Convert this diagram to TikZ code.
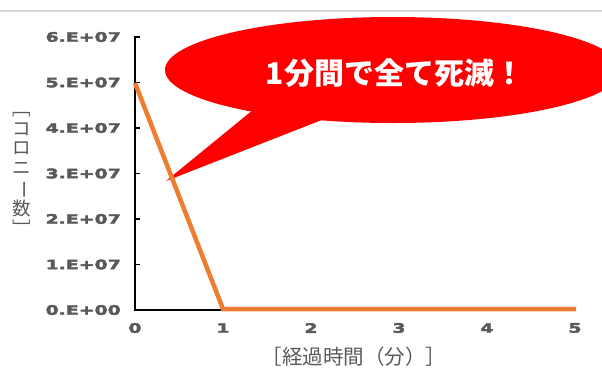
\documentclass[tikz,border=0pt]{standalone}
\usepackage{fontspec}
\usepackage{graphicx}
\newfontfamily\jp{Noto Sans CJK JP}
\newfontfamily\tickfont[FakeStretch=1.45,FakeBold=3]{DejaVu Sans Bold}
\definecolor{orng}{HTML}{ED7D31}
\definecolor{txtgray}{HTML}{595959}
\definecolor{rulegray}{HTML}{D9D9D9}
\definecolor{bubred}{HTML}{FF0000}
\begin{document}
\begin{tikzpicture}[x=1pt,y=-1pt,
  ticklab/.style={font=\tickfont\fontsize{13}{15}\selectfont, text=txtgray, inner sep=0pt},
  axisline/.style={black, line width=1.8pt},
  dataline/.style={orng, line width=4.5pt},
  bubble/.style={fill=bubred},
  axislab/.style={font=\jp\fontsize{20.5}{22}\selectfont, text=txtgray, inner sep=0pt}]
\useasboundingbox (0,0) rectangle (602,373);
\clip (0,0) rectangle (602,373);
% top rule
\draw[rulegray, line width=1.4pt] (0,11) -- (602,11);
% speech bubble
\fill[bubble] (393,70) ellipse [x radius=228, y radius=53];
\coordinate (tip) at (166,181);
\fill[bubble] (259,105) -- (tip) -- (337,114) -- cycle;
\node[font=\jp\bfseries\fontsize{30}{32}\selectfont, text=white, inner sep=0pt] (msg) at (395,73) {1分間で全て死滅！};
% axes
\coordinate (origin) at (135,310);
\coordinate (ytop) at (135,36);
\coordinate (xend) at (575,310);
\draw[axisline] (ytop) -- (origin) -- (xend);
\foreach \v in {1,...,6} {
  \draw[axisline, line width=1.5pt] (134,310-45.5*\v) -- (140,310-45.5*\v);
}
% y tick labels
\foreach \v/\t in {0/0.E+00,1/1.E+07,2/2.E+07,3/3.E+07,4/4.E+07,5/5.E+07,6/6.E+07} {
  \node[ticklab, anchor=east] (yl\v) at (121,310-45.5*\v) {\t};
}
% x tick labels
\foreach \v in {0,...,5} {
  \node[ticklab] (xl\v) at (135+88*\v,328) {\v};
}
% data
\coordinate (p0) at (135,83);
\coordinate (p1) at (223,309);
\coordinate (p5) at (576,309);
\draw[dataline] (p0) -- (p1) -- (p5);
% axis titles
\node[axislab] (xt) at (354,357) {［経過時間（分）］};
\node[font=\jp\fontsize{18.5}{19.5}\selectfont, text=txtgray, align=center, inner sep=0pt] (yt) at (22,174)
  {﹇\\コ\\ロ\\ニ\\\rotatebox[origin=c]{-90}{ー}\\数\\﹈};
\end{tikzpicture}
\end{document}
